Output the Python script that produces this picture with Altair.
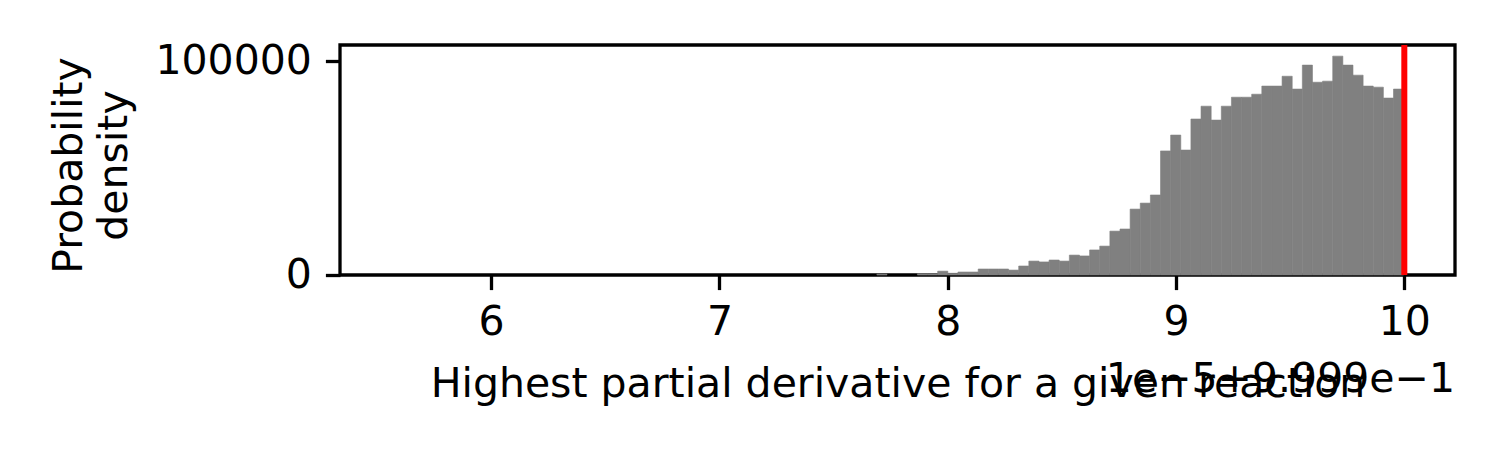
import altair as alt
import numpy as np
import pandas as pd

# Histogram of the highest partial derivative (x in units of 1e-5, offset 0.9999)
x_data_min = 5.56
x_data_max = 9.997
n_bins = 100
densities = [0] * 48 + [400, 0, 0, 0, 600, 600, 1800, 800, 1400, 1400,
    2800, 2800, 2800, 2300, 4200, 6500, 6100, 7000, 6500, 9300,
    8900, 11700, 13500, 20500, 21500, 30800, 33600, 37400, 58000, 65400,
    58400, 72900, 78900, 72400, 78900, 83100, 83100, 84500, 88300, 88300,
    92900, 86900, 98100, 90100, 90600, 102300, 98100, 93400, 88300, 87800,
    82700, 86900]
x_ticks = [6, 7, 8, 9, 10]
y_ticks = [0, 100000]
marker_value = [10]
x_domain = [5.338, 10.222]
y_domain = [0, 107500]
x_label = "Highest partial derivative for a given reaction"
y_label = ["Probability", "density"]
offset_text = "1e\u22125+9.999e\u22121"

edges = np.linspace(x_data_min, x_data_max, n_bins + 1)
df = pd.DataFrame({"x0": edges[:-1], "x1": edges[1:], "d": densities})
df = df[df["d"] > 0]

FONT = "DejaVu Sans"
FS = 41

xs = alt.Scale(domain=x_domain, nice=False, zero=False)
ys = alt.Scale(domain=y_domain, nice=False)

bars = alt.Chart(df).mark_rect(color="#808080", stroke="#808080", strokeWidth=0.6).encode(
    x=alt.X("x0:Q", scale=xs, axis=alt.Axis(
        values=x_ticks, format="d", grid=False, domain=False,
        tickSize=14.6, tickWidth=3.3, tickColor="black",
        labelFontSize=FS, labelFont=FONT, labelColor="black", labelPadding=12.5,
        labelFlush=False, labelOverlap=False,
        title=x_label, titleFontSize=FS, titleFont=FONT, titleFontWeight="normal",
        titleColor="black", titleBaseline="alphabetic", titleY=121,
        titleX=557.5, titleAlign="center")),
    x2="x1:Q",
    y=alt.Y("d:Q", scale=ys, axis=alt.Axis(
        values=y_ticks, format="d", grid=False, domain=False,
        tickSize=14.6, tickWidth=3.3, tickColor="black",
        labelFontSize=FS, labelFont=FONT, labelColor="black", labelPadding=14,
        labelFlush=False, labelOverlap=False,
        title=y_label, titleFontSize=FS, titleFont=FONT, titleFontWeight="normal",
        titleColor="black", titleAngle=-90, titleBaseline="alphabetic",
        titleAlign="center", titleX=-259, titleY=120, titleLineHeight=45)),
    y2=alt.datum(0),
)

vline = alt.Chart(pd.DataFrame({"v": marker_value})).mark_rule(
    color="red", strokeWidth=6).encode(x=alt.X("v:Q", scale=xs))

offset = alt.Chart(pd.DataFrame({"t": [offset_text]})).mark_text(
    align="right", baseline="alphabetic", fontSize=FS, font=FONT, color="black"
).encode(text="t:N", x=alt.value(1115), y=alt.value(347))

chart = alt.layer(bars, vline, offset).properties(
    width=1115, height=230,
    background="white",
    autosize=alt.AutoSizeParams(type="none"),
    padding={"left": 332, "top": 37, "right": 30, "bottom": 150},
).configure_view(stroke="black", strokeWidth=3.3)

chart.save("out.html", embed_options={"renderer": "svg", "actions": False})
